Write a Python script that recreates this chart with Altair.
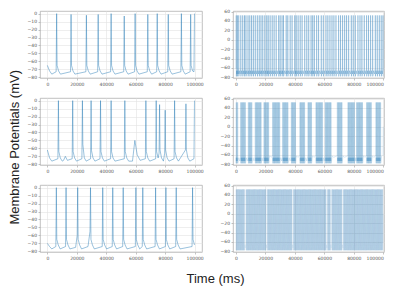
import altair as alt
import pandas as pd

# ---------------- data (times in seconds, voltages in mV) ----------------
# left column: slow spiking
tl_spikes = [6.3, 16.1, 26.5, 34.5, 43.3, 52.2, 59.6, 68.2, 74.6, 82.1, 91.0, 97.3, 99.9]
tl_peaks = [0, -1, -2, -1, 0, -3, 0, -1, 0, -1, 0, -1, 0]
tl_pre = [-73] * 13
tl_adp = [-65] * 13
tl_extra_t = [0.0, 1.5, 3.0]
tl_extra_v = [-65, -72, -76]

ml_spikes = [7.5, 17.2, 23.8, 29.7, 36.1, 43.3, 52.6, 66.9, 73.9, 76.2, 80.0, 86.4, 94.1, 99.9]
ml_peaks = [0, 0, 0, 0, 0, 0, 0, 0, 0, -5, -12, 0, -4, 0]
ml_pre = [-73, -73, -73, -73, -73, -73, -73, -73, -73, -66, -66, -73, -62, -73]
ml_adp = [-64, -64, -55, -63, -64, -64, -64, -64, -64, -62, -62, -64, -62, -64]
ml_extra_t = [0.0, 1.5, 3.0, 11.0, 12.2, 13.6, 57.8, 59.4, 61.0, 63.0]
ml_extra_v = [-62, -72, -76, -75, -70, -75, -76, -50, -68, -75]

bl_spikes = [6.1, 12.7, 20.6, 29.3, 37.6, 44.4, 51.5, 60.1, 64.8, 73.5, 80.5, 87.5, 98.6]
bl_peaks = [0] * 13
bl_pre = [-74, -74, -60, -55, -74, -74, -74, -74, -74, -74, -74, -74, -74]
bl_adp = [-65] * 13
bl_extra_t = [0.0, 1.5, 3.0, 19.2, 27.6]
bl_extra_v = [-70, -74, -77, -75, -74]

# right column: fast spiking
tr_spikes = [0.2, 1.0, 1.9, 3.3, 4.6, 5.8, 6.8, 8.2, 9.4, 10.6, 11.8, 13.1, 14.5, 15.8, 17.0,
             18.2, 19.6, 20.9, 21.9, 23.2, 24.6, 25.9, 27.3, 29.0, 30.0, 31.3, 32.3, 34.1, 35.2,
             36.8, 38.1, 39.9, 40.9, 42.2, 43.6, 44.9, 46.7, 48.1, 49.4, 51.0, 52.1, 53.2, 54.8,
             56.1, 57.9, 59.3, 61.1, 62.4, 63.8, 65.2, 66.5, 67.9, 69.7, 71.0, 72.4, 73.8, 75.1,
             76.5, 78.3, 79.6, 81.0, 82.8, 84.2, 85.5, 87.1, 88.7, 90.0, 91.4, 92.8, 94.6, 95.9,
             97.3, 98.6, 99.8]

mr_burst_start = [0.0, 3.2, 8.4, 13.1, 19.0, 24.9, 31.7, 37.6, 43.4, 48.9, 54.3, 60.6, 68.8, 76.0, 81.9, 88.7, 95.0]
mr_burst_end = [1.4, 6.8, 10.9, 17.2, 22.2, 29.9, 35.3, 40.7, 46.6, 51.6, 58.8, 64.7, 72.4, 80.5, 86.0, 92.3, 98.6]
mr_period = 0.4
mr_tail_t = [99.9, 100.0]
mr_tail_v = [-62, 0]

br_burst_start = [0.0, 6.8, 21.3, 39.0, 62.1, 65.0, 72.9]
br_burst_end = [6.0, 20.5, 38.2, 61.3, 64.2, 72.1, 99.8]
br_period = 0.2
br_tail_t = [99.9, 100.0]
br_tail_v = [-62, 0]

# sub-threshold levels between fast spikes (fraction of interval, mV)
sub_frac = [0.35, 0.65]
sub_v = [-66, -73]

x_ticks = [0, 20000, 40000, 60000, 80000, 100000]
left_y_ticks = [0, -10, -20, -30, -40, -50, -60, -70, -80]
right_y_ticks = [60, 40, 20, 0, -20, -40, -60, -80]

LINE = "#1f77b4"


def slow_trace(spikes, peaks, pre, adp, ext_t, ext_v, rest=-76.0):
    rows = list(zip(ext_t, ext_v))
    n = len(spikes)
    for i in range(n):
        ts = spikes[i]
        prev_t = spikes[i - 1] if i > 0 else -10
        next_t = spikes[i + 1] if i + 1 < n else 1000
        if ts - 0.35 > prev_t + 0.35:
            rows.append((ts - 0.35, pre[i]))
        rows += [(ts, peaks[i]), (ts + 0.3, adp[i])]
        for dt, v in ((1.3, -72.0), (2.6, rest)):
            if ts + dt < next_t - 0.5:
                rows.append((ts + dt, v))
    rows = sorted((t, v) for t, v in rows if 0 <= t <= 100)
    return pd.DataFrame({"t": [r[0] * 1000 for r in rows], "v": [r[1] for r in rows], "g": 0})


def fast_trace(spikes, tail_t=(), tail_v=(), peak=52.0, trough=-78.0, pre=-62.0):
    t_all, v_all, g_all = [], [], []
    n = len(spikes)
    for i, ts in enumerate(spikes):
        pts = [(ts - 0.05, pre), (ts, peak), (ts + 0.08, trough)]
        nxt = spikes[i + 1] if i + 1 < n else None
        if nxt is not None and nxt - ts < 2.5:
            gap = nxt - ts
            pts += [(ts + f * gap, v) for f, v in zip(sub_frac, sub_v)]
            pts.append((nxt - 0.05, pre))
        elif nxt is not None:
            pts += [(ts + 0.7, pre), (ts + 1.6, -65.0), (nxt - 0.05, pre)]
        else:
            pts += [(ts + 0.7, pre)]
        for t, v in pts:
            if 0 <= t <= 100:
                t_all.append(t * 1000)
                v_all.append(v)
                g_all.append(i)
    for t, v in zip(tail_t, tail_v):
        t_all.append(t * 1000)
        v_all.append(v)
        g_all.append(n)
    return pd.DataFrame({"t": t_all, "v": v_all, "g": g_all})


def burst_spikes(starts, ends, period):
    out = []
    for a, b in zip(starts, ends):
        t = a
        while t <= b:
            out.append(round(t, 3))
            t += period
    return out


def panel(df, ydomain, yticks, xdomain, w, h, opacity=1.0, width=0.6):
    return alt.Chart(df).mark_line(
        strokeWidth=width, color=LINE, strokeOpacity=opacity, clip=True
    ).encode(
        x=alt.X("t:Q", scale=alt.Scale(domain=xdomain, nice=False, zero=False),
                axis=alt.Axis(values=x_ticks, format="d", title=None)),
        y=alt.Y("v:Q", scale=alt.Scale(domain=ydomain, nice=False, zero=False),
                axis=alt.Axis(values=yticks, format="d", title=None)),
        detail="g:N",
    ).properties(width=w, height=h)


LW, RW, H = 162, 151, 67
LXD = [-5000, 105000]
RXD = [-2000, 100500]
LYD = [-80.85, 3.3]
RYD = [-81.5, 61.3]

tl = panel(slow_trace(tl_spikes, tl_peaks, tl_pre, tl_adp, tl_extra_t, tl_extra_v), LYD, left_y_ticks, LXD, LW, H, 0.75)
ml = panel(slow_trace(ml_spikes, ml_peaks, ml_pre, ml_adp, ml_extra_t, ml_extra_v), LYD, left_y_ticks, LXD, LW, H, 0.75)
bl = panel(slow_trace(bl_spikes, bl_peaks, bl_pre, bl_adp, bl_extra_t, bl_extra_v, rest=-77.0), LYD, left_y_ticks, LXD, LW, H, 0.75)

tr = panel(fast_trace(tr_spikes), RYD, right_y_ticks, RXD, RW, H, 0.6, 0.5)
mr = panel(fast_trace(burst_spikes(mr_burst_start, mr_burst_end, mr_period), mr_tail_t, mr_tail_v),
           RYD, right_y_ticks, RXD, RW, H, 0.3, 0.5)
br = panel(fast_trace(burst_spikes(br_burst_start, br_burst_end, br_period), br_tail_t, br_tail_v),
           RYD, right_y_ticks, RXD, RW, H, 0.13, 0.5)

rows = alt.vconcat(
    alt.hconcat(tl, tr, spacing=15),
    alt.hconcat(ml, mr, spacing=15),
    alt.hconcat(bl, br, spacing=15),
    spacing=8,
).properties(
    title=alt.TitleParams("Time (ms)", orient="bottom", anchor="middle", fontSize=13,
                          font="Liberation Sans", fontWeight="normal", color="#222",
                          offset=13, dx=10)
)

chart = alt.hconcat(rows).properties(
    title=alt.TitleParams("Membrane Potentials (mV)", orient="left", anchor="middle", fontSize=13,
                          font="Liberation Sans", fontWeight="normal", color="#222", offset=5),
    padding=0,
).configure_axis(
    labelFontSize=4.5, labelColor="#555", labelFont="DejaVu Sans", tickSize=2, tickColor="#888",
    tickWidth=0.5, domain=False, gridColor="#e3e3e3", gridWidth=0.6, labelPadding=1.5,
).configure_view(
    stroke="#b0b0b0", strokeWidth=0.8
).configure_concat(spacing=0)

chart.save("out.html", embed_options={"renderer": "svg", "actions": False})
